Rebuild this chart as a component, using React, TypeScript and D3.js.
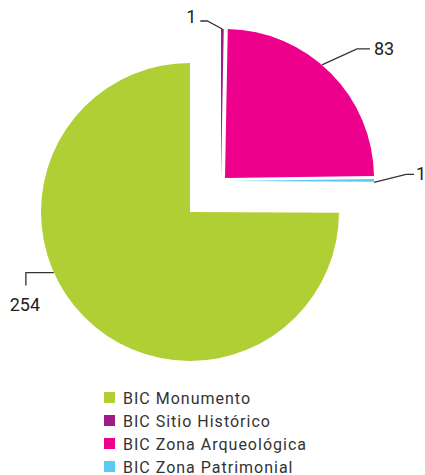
import React, { useEffect, useRef } from 'react';
import * as d3 from 'd3';

// legend order
const categories = ['BIC Monumento', 'BIC Sitio Histórico', 'BIC Zona Arqueológica', 'BIC Zona Patrimonial'];
const values = [254, 1, 83, 1];
const colors = ['#b0cf34', '#9c1d86', '#ec008c', '#5dc9f1'];
// order of slices clockwise from 12 o'clock
const pieOrder = [1, 2, 3, 0];

export default function App() {
  const svgRef = useRef<SVGSVGElement>(null);

  useEffect(() => {
    const svg = d3.select(svgRef.current);
    svg.selectAll('*').remove();

    const cx = 190, cy = 212, r = 149;
    // exploded slices, a little apart from each other
    const offsets: Record<number, [number, number]> = { 0: [0, 0], 1: [31, -34], 2: [35, -34], 3: [35, -31] };

    const data = pieOrder.map((i) => ({ name: categories[i], value: values[i], color: colors[i], idx: i }));
    const arcs = d3.pie<any>().sort(null).value((d) => d.value)(data);
    const arc = d3.arc<any>().innerRadius(0).outerRadius(r);

    const g = svg.append('g').attr('transform', `translate(${cx},${cy})`);

    arcs.forEach((a) => {
      const off = offsets[a.data.idx];
      g.append('path')
        .attr('d', arc(a))
        .attr('transform', `translate(${off[0]},${off[1]})`)
        .attr('fill', a.data.color);
    });

    // leader lines: angle on the rim (deg from 12 o'clock), then elbow and end offsets
    const leaders: Record<number, { ang: number; pts: [number, number][]; text: [number, number]; anchor: string }> = {
      1: { ang: 0.5, pts: [[-15, -8], [-22, -8]], text: [-26, -6], anchor: 'end' },
      2: { ang: 40.6, pts: [[35, -16], [48, -16]], text: [52, -10], anchor: 'start' },
      3: { ang: 90.5, pts: [[32, -8], [40, -8]], text: [42, -2], anchor: 'start' },
      0: { ang: 246, pts: [[-28, 0], [-28, 13]], text: [-29, 38], anchor: 'middle' },
    };

    arcs.forEach((a) => {
      const L = leaders[a.data.idx];
      const off = offsets[a.data.idx];
      const t = (L.ang * Math.PI) / 180;
      const sx = cx + off[0] + r * Math.sin(t);
      const sy = cy + off[1] - r * Math.cos(t);
      const pts: [number, number][] = [[sx, sy], ...L.pts.map(([dx, dy]) => [sx + dx, sy + dy] as [number, number])];
      svg.append('path')
        .attr('d', d3.line()(pts))
        .attr('fill', 'none')
        .attr('stroke', '#333')
        .attr('stroke-width', 1.3);
      svg.append('text')
        .attr('x', sx + L.text[0])
        .attr('y', sy + L.text[1])
        .attr('text-anchor', L.anchor)
        .attr('font-family', 'Roboto, sans-serif')
        .attr('font-size', 18)
        .attr('fill', '#222')
        .text(a.data.value);
    });

    const legend = svg.append('g').attr('transform', 'translate(104,392)');
    categories.forEach((c, i) => {
      const row = legend.append('g').attr('transform', `translate(0,${i * 23})`);
      row.append('rect').attr('width', 11).attr('height', 11).attr('fill', colors[i]);
      row.append('text')
        .attr('x', 19)
        .attr('y', 11.5)
        .attr('font-family', 'Roboto, sans-serif')
        .attr('font-size', 16)
        .attr('letter-spacing', 1)
        .attr('fill', '#333')
        .text(c);
    });
  }, []);

  return (
    <svg ref={svgRef} width={425} height={475} style={{ position: 'absolute', left: 0, top: 0 }}></svg>
  );
}
